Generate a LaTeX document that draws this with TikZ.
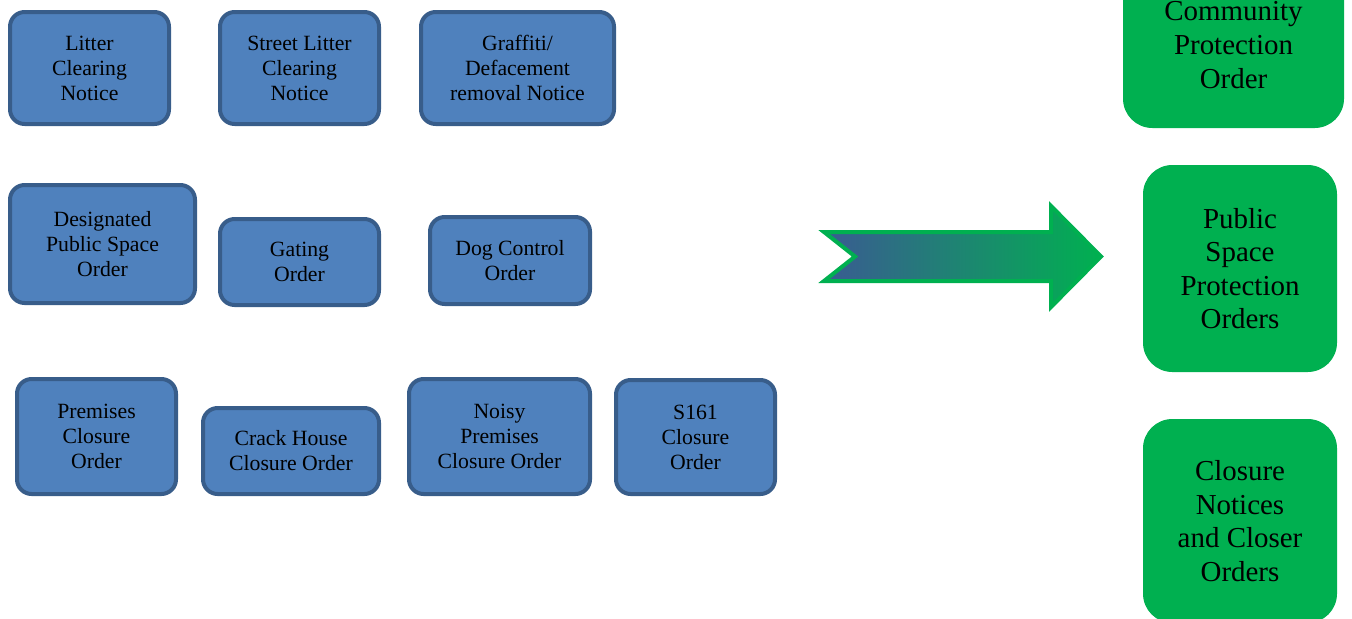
\documentclass[tikz,border=0pt]{standalone}
\usepackage{fontspec}
\setmainfont{Liberation Serif}

\definecolor{boxblue}{HTML}{4F81BD}
\definecolor{boxrim}{HTML}{385D8A}
\definecolor{groupgreen}{HTML}{00B050}
\definecolor{arrowblue}{HTML}{3A5B92}

\tikzset{
  orderbox/.style={draw=boxrim, fill=boxblue, line width=3pt, rounded corners=11pt,
    align=center, inner sep=0pt, font=\fontsize{16.3}{18.75}\selectfont},
  groupbox/.style={fill=groupgreen, rounded corners=22pt,
    align=center, inner sep=0pt, font=\fontsize{21.7}{25.2}\selectfont},
  bsize/.style 2 args={minimum width=#1*0.75pt, minimum height=#2*0.75pt}
}

\begin{document}
\begin{tikzpicture}[x=0.75pt,y=-0.75pt]
  \useasboundingbox (0,0) rectangle (1352,618);
  \clip (0,0) rectangle (1352,618);

  % first row
  \node[orderbox, bsize={159}{112}] (litter) at (89.5,68) {Litter\\Clearing\\Notice};
  \node[orderbox, bsize={159}{112}] (streetlitter) at (299.5,68) {Street Litter\\Clearing\\Notice};
  \node[orderbox, bsize={193}{112}] (graffiti) at (517.5,68) {Graffiti/\\Defacement\\removal Notice};

  % second row
  \node[orderbox, bsize={185}{118}] (designated) at (102.5,244) {Designated\\Public Space\\Order};
  \node[orderbox, bsize={159}{86}] (gating) at (299.5,262) {Gating\\Order};
  \node[orderbox, bsize={160}{87}] (dogcontrol) at (510,260.5) {Dog Control\\Order};

  % third row
  \node[orderbox, bsize={159}{115}] (premises) at (96.5,436.5) {Premises\\Closure\\Order};
  \node[orderbox, bsize={176}{86}] (crackhouse) at (291,451) {Crack House\\Closure Order};
  \node[orderbox, bsize={181}{115}] (noisy) at (499.5,436.5) {Noisy\\Premises\\Closure Order};
  \node[orderbox, bsize={159}{114}] (sonesixone) at (695.5,437) {S161\\Closure\\Order};

  % the new powers
  \node[groupbox, bsize={221}{166}] (community) at (1233.5,45) {Community\\Protection\\Order};
  \node[groupbox, bsize={194}{207}] (publicspace) at (1240,268.5) {Public\\Space\\Protection\\Orders};
  \node[groupbox, bsize={194}{204}] (closure) at (1240,521) {Closure\\Notices\\and Closer\\Orders};

  % big arrow
  \draw[draw=groupgreen, line width=3pt, line join=miter,
        left color=arrowblue, middle color=groupgreen!75!arrowblue, right color=groupgreen]
    (824,232) -- (1051,232) -- (1051,206) -- (1101,256.5) -- (1051,307)
    -- (1051,281) -- (824,281) -- (855,256.5) -- cycle;
\end{tikzpicture}
\end{document}
